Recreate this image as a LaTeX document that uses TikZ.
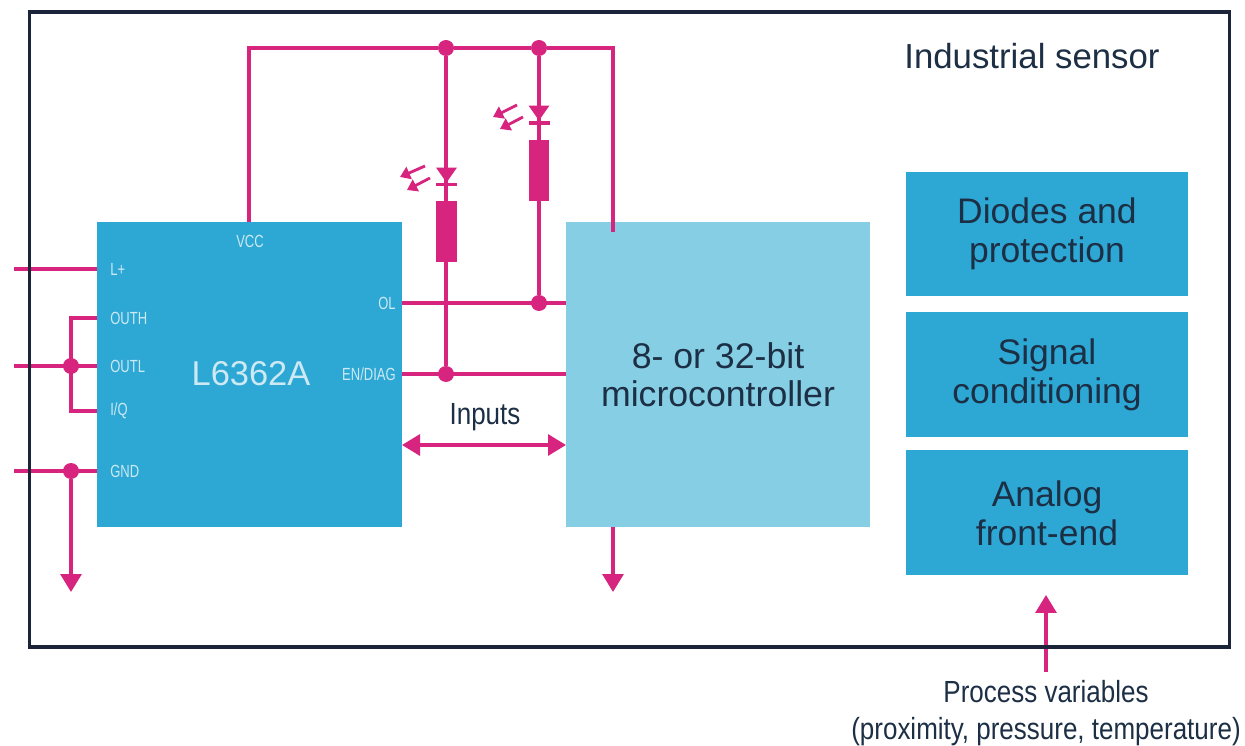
\documentclass[tikz,border=0pt]{standalone}
\usepackage{fontspec}
\setmainfont{Liberation Sans}
\newfontfamily\narrowfont[FakeStretch=0.85]{Liberation Sans}
\newfontfamily\pinfont[FakeStretch=0.74]{Liberation Sans}
\usepackage{xcolor}
\usetikzlibrary{arrows.meta,positioning,shapes.geometric}
\definecolor{wirecol}{HTML}{D6247F}
\definecolor{framecol}{HTML}{1B2438}
\definecolor{chipcol}{HTML}{2DA8D5}
\definecolor{mcucol}{HTML}{86CEE4}
\definecolor{inkcol}{HTML}{1C2F45}
\definecolor{paleink}{HTML}{CDE9F3}
\tikzset{
  chipbox/.style={fill=chipcol, minimum width=6.1cm, minimum height=6.1cm, inner sep=0pt},
  mcubox/.style={fill=mcucol, minimum width=6.08cm, minimum height=6.1cm, inner sep=0pt, align=center, text=inkcol, font=\fontsize{20.3}{21.4}\selectfont},
  block/.style={fill=chipcol, minimum width=5.64cm, minimum height=2.5cm, inner sep=0pt, align=center, text=inkcol, font=\fontsize{20.2}{22.2}\selectfont},
  pinlabel/.style={inner sep=0pt, text=paleink, font=\pinfont\fontsize{10}{10}\selectfont},
  caption/.style={inner sep=0pt, align=center, text=inkcol, font=\narrowfont\fontsize{17.4}{21}\selectfont},
  wire/.style={draw=wirecol, line width=1.8pt},
  arrow/.style={wire, -{Triangle[length=0.36cm, width=0.42cm]}},
  bothways/.style={wire, {Triangle[length=0.36cm, width=0.42cm]}-{Triangle[length=0.36cm, width=0.42cm]}},
  ray/.style={draw=wirecol, line width=1.6pt, -{Triangle[length=0.2cm, width=0.26cm]}},
  junction/.style={circle, fill=wirecol, minimum size=0.32cm, inner sep=0pt},
  resistor/.style={fill=wirecol, minimum width=0.41cm, minimum height=1.22cm, inner sep=0pt},
  diode/.style={isosceles triangle, isosceles triangle apex angle=70, shape border rotate=270, fill=wirecol, minimum height=0.3cm, minimum width=0.38cm, inner sep=0pt},
  diodebar/.style={fill=wirecol, minimum width=0.42cm, minimum height=0.07cm, inner sep=0pt}
}

\begin{document}
\begin{tikzpicture}[x=0.02cm, y=-0.02cm, node distance=0.3cm]
  \useasboundingbox (0,0) rectangle (1245,746);

  % blocks
  \node[chipbox] (chip) at (249.5,374.5) {};
  \node[mcubox] (mcu) at (718,374.5) {8- or 32-bit\\microcontroller};
  \node[block] (diodes) at (1047,234) {Diodes and\\protection};
  \node[block, below=0.3cm of diodes] (signal) {Signal\\conditioning};
  \node[block, below=0.25cm of signal] (analog) {Analog\\front-end};

  % texts
  \node[inner sep=0pt, text=paleink, font=\fontsize{19.6}{22}\selectfont] (name) at (251,374) {L6362A};
  \node[inner sep=0pt, text=inkcol, font=\fontsize{19.8}{22}\selectfont] (title) at (1032,56) {Industrial sensor};
  \node[caption] (inputs) at (485,417) {Inputs};
  \node[caption, anchor=north] (process) at (1046,680) {Process variables\\(proximity, pressure, temperature)};

  % pin labels
  \node[pinlabel] (vcc) at (250,241) {VCC};
  \node[pinlabel, anchor=west] (lp) at (110,269) {L+};
  \node[pinlabel, anchor=west] (outh) at (110,318) {OUTH};
  \node[pinlabel, anchor=west] (outl) at (110,366) {OUTL};
  \node[pinlabel, anchor=west] (iq) at (110,411) {I/Q};
  \node[pinlabel, anchor=west] (gnd) at (110,471) {GND};
  \node[pinlabel, anchor=east] (ol) at (396,303) {OL};
  \node[pinlabel, anchor=east] (endiag) at (396,374) {EN/DIAG};

  % junctions
  \node[junction] (j1) at (446,48) {};
  \node[junction] (j2) at (539,48) {};
  \node[junction] (j3) at (539,303) {};
  \node[junction] (j4) at (446,374) {};
  \node[junction] (j5) at (71,366) {};
  \node[junction] (j6) at (71,471) {};

  % free ends
  \coordinate (busl) at (249,48);
  \coordinate (busr) at (613,48);
  \coordinate (vccin) at (249,222);
  \coordinate (mcuvcc) at (613,232);
  \coordinate (lpend) at (14,269);
  \coordinate (lppin) at (97,269);
  \coordinate (outhin) at (71,318);
  \coordinate (outhpin) at (97,318);
  \coordinate (outlend) at (14,366);
  \coordinate (outlpin) at (97,366);
  \coordinate (iqin) at (71,411);
  \coordinate (iqpin) at (97,411);
  \coordinate (gndend) at (14,471);
  \coordinate (gndpin) at (97,471);
  \coordinate (gndout) at (71,592);
  \coordinate (olpin) at (402,303);
  \coordinate (olmcu) at (566,303);
  \coordinate (enpin) at (402,374);
  \coordinate (enmcu) at (566,374);
  \coordinate (inchip) at (402,445);
  \coordinate (inmcu) at (566,445);
  \coordinate (mcuout) at (613,527);
  \coordinate (mcugnd) at (613,592);
  \coordinate (procin) at (1046,672);
  \coordinate (procout) at (1046,595);

  % LEDs
  \node[resistor] (r1) at (446.5,231.5) {};
  \node[resistor] (r2) at (539,170.5) {};
  \node[diode] (d1) at (446.5,173) {};
  \node[diode] (d2) at (539,111) {};
  \node[diodebar] (b1) at (446.5,184.5) {};
  \node[diodebar] (b2) at (539,123) {};

  % wires
  \draw[wire] (vccin) -- (busl) -- (j1) -- (j2) -- (busr) -- (mcuvcc);
  \draw[wire] (j1) -- (j4);
  \draw[wire] (j2) -- (j3);
  \draw[wire] (olpin) -- (olmcu);
  \draw[wire] (enpin) -- (enmcu);
  \draw[wire] (lpend) -- (lppin);
  \draw[wire] (outlend) -- (outlpin);
  \draw[wire] (gndend) -- (gndpin);
  \draw[wire] (outhpin) -- (outhin) -- (iqin) -- (iqpin);
  \draw[arrow] (j6) -- (gndout);
  \draw[arrow] (mcuout) -- (mcugnd);
  \draw[arrow] (procin) -- (procout);
  \draw[bothways] (inchip) -- (inmcu);

  % frame
  \node[draw=framecol, line width=1.8pt, minimum width=24.02cm, minimum height=12.7cm, inner sep=0pt] (frame) at (629.5,329.5) {};

  % light rays
  \coordinate (ra) at (425,166);
  \coordinate (rb) at (400,177);
  \coordinate (rc) at (430,178);
  \coordinate (rd) at (407,190);
  \coordinate (re) at (517,105);
  \coordinate (rf) at (493,117);
  \coordinate (rg) at (523,117);
  \coordinate (rh) at (500,129);
  \draw[ray] (ra) -- (rb);
  \draw[ray] (rc) -- (rd);
  \draw[ray] (re) -- (rf);
  \draw[ray] (rg) -- (rh);
\end{tikzpicture}
\end{document}
